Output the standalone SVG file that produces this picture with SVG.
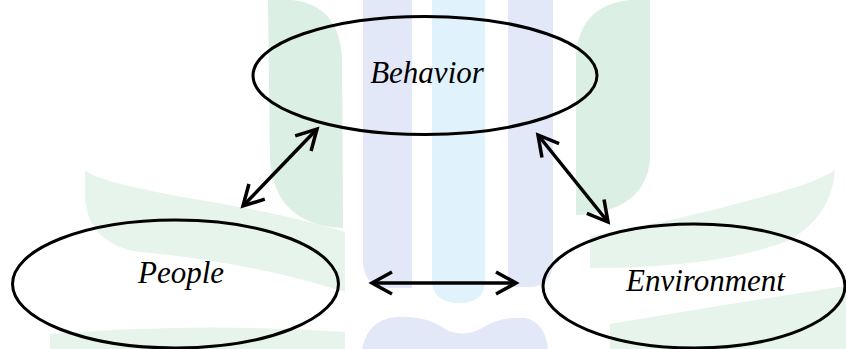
<svg xmlns="http://www.w3.org/2000/svg" width="846" height="349" viewBox="0 0 846 349">
<style>
.bg-green{fill:#dbefe4;}
.bg-green2{fill:#e6f4ec;}
.bg-lav{fill:#e3e8f8;}
.bg-cyan{fill:#e0f2fc;}
.node{fill:none;stroke:#000;stroke-width:3;}
.lbl{font-family:"Liberation Serif","Times New Roman",serif;font-style:italic;font-size:31px;fill:#000;text-anchor:middle;}
.conn{stroke:#000;stroke-width:3.5;fill:none;}
</style>
<defs>
<marker id="ah" viewBox="-26 -16 30 32" refX="0" refY="0" markerUnits="userSpaceOnUse" markerWidth="30" markerHeight="32" orient="auto-start-reverse">
<path d="M -20 -11 L 0 0 L -20 11" fill="none" stroke="#000" stroke-width="3.5" stroke-linejoin="miter"/>
</marker>
</defs>
<rect width="846" height="349" fill="#ffffff"/>
<g id="background">
<path class="bg-green" d="M 268 0 L 292 0 Q 340 5 342 60 L 343 228 Q 275 225 270 160 Z"/>
<path class="bg-green" d="M 650 0 L 650 160 Q 645 210 580 215 L 576 215 L 576 55 Q 580 5 630 0 Z"/>
<path class="bg-green2" d="M 85 170 Q 95 182 200 200 Q 290 215 345 232 L 345 292 Q 250 262 140 252 Q 90 245 85 200 Z"/>
<path class="bg-green2" d="M 50 334 Q 200 322 345 332 L 345 349 L 50 349 Z"/>
<path class="bg-green2" d="M 590 236 Q 700 216 800 186 Q 825 177 835 170 Q 832 215 790 240 Q 720 268 590 268 Z"/>
<path class="bg-green2" d="M 610 324 Q 720 305 846 286 L 846 349 L 610 349 Z"/>
<path class="bg-lav" d="M 363 0 L 412 0 L 412 288 L 390 288 Q 363 288 363 260 Z"/>
<path class="bg-cyan" d="M 432 0 L 485 0 L 485 280 Q 485 303 460 303 Q 432 303 432 280 Z"/>
<path class="bg-lav" d="M 508 0 L 553 0 L 553 260 Q 553 287 530 287 L 508 287 Z"/>
<path class="bg-lav" d="M 362 349 Q 368 320 395 317 Q 425 315 445 329 Q 462 338 480 329 Q 500 316 525 318 Q 545 322 548 349 Z"/>
</g>
<g id="connectors">
<line class="conn" x1="243" y1="206" x2="317" y2="129" marker-start="url(#ah)" marker-end="url(#ah)"/>
<line class="conn" x1="538" y1="135" x2="608" y2="222" marker-start="url(#ah)" marker-end="url(#ah)"/>
<line class="conn" x1="372" y1="283" x2="516" y2="283" marker-start="url(#ah)" marker-end="url(#ah)"/>
</g>
<g id="behavior">
<ellipse class="node" cx="425" cy="75.5" rx="172" ry="59"/>
<text class="lbl" x="427" y="83">Behavior</text>
</g>
<g id="people">
<ellipse class="node" cx="175.5" cy="284" rx="163" ry="64"/>
<text class="lbl" x="181" y="283">People</text>
</g>
<g id="environment">
<ellipse class="node" cx="694" cy="286" rx="151" ry="62"/>
<text class="lbl" x="705.5" y="291">Environment</text>
</g>
</svg>
